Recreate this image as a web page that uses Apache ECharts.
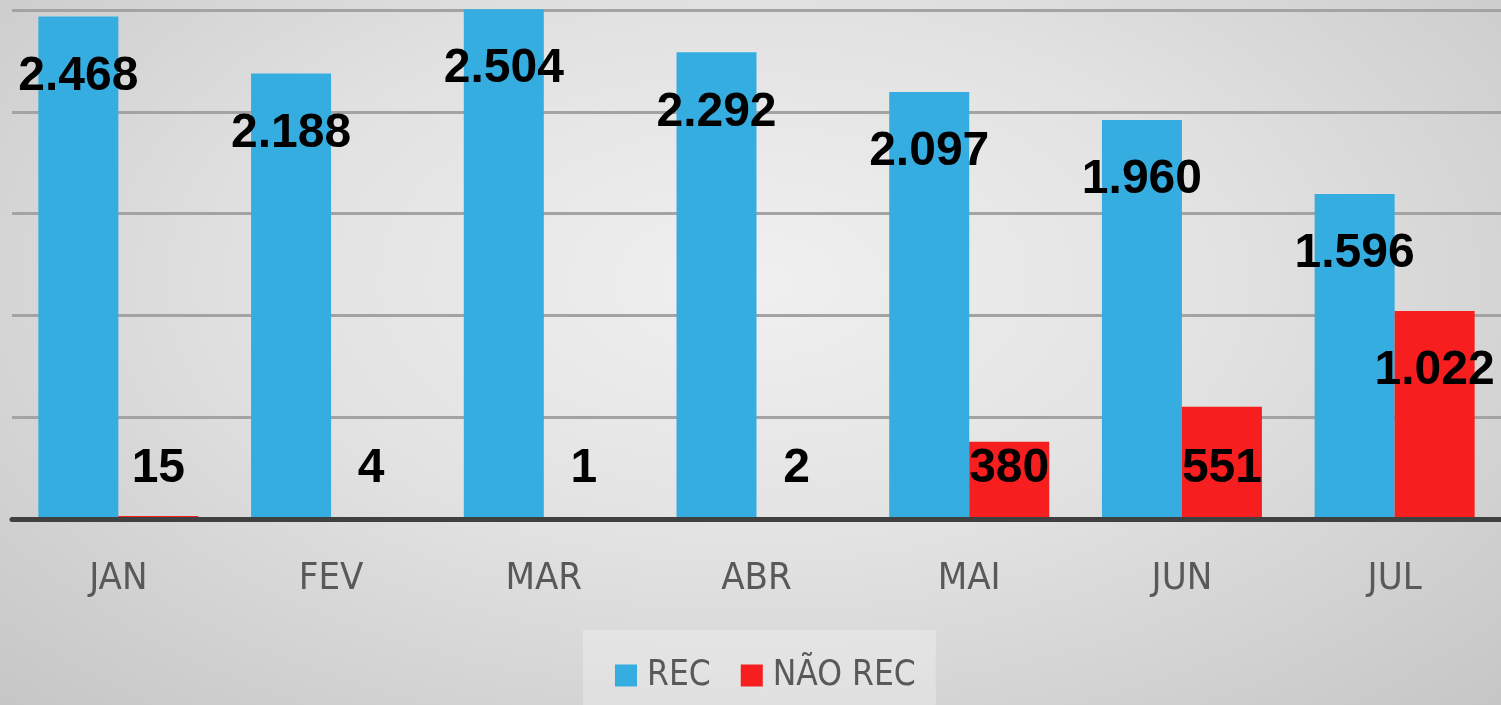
<!DOCTYPE html>
<html>
<head>
<meta charset="utf-8">
<script src="https://cdn.jsdelivr.net/npm/echarts@6/dist/echarts.min.js"></script>
<style>
  html, body { margin: 0; padding: 0; }
  #main {
    width: 1501px;
    height: 705px;
    background: radial-gradient(ellipse at 50% 40%, #f0f0f0 0%, #e2e2e2 45%, #c6c6c6 100%);
  }
</style>
</head>
<body>
<div id="main"></div>
<script>
// dados
const months = ['JAN', 'FEV', 'MAR', 'ABR', 'MAI', 'JUN', 'JUL']
const recValues = [2468, 2188, 2504, 2292, 2097, 1960, 1596]
const naoRecValues = [15, 4, 1, 2, 380, 551, 1022]

const FONT = "'DejaVu Sans Condensed', 'Liberation Sans', sans-serif"
const LABEL_FONT = "'Liberation Sans', Arial, sans-serif"

// 2.468 etc
const fmt = (v) => String(v).replace(/\B(?=(\d{3})+(?!\d))/g, '.')

const topLabel = {
  show: true,
  position: 'insideTop',
  distance: 36,
  color: '#000',
  fontFamily: LABEL_FONT,
  fontWeight: 'bold',
  fontSize: 48,
  lineHeight: 48,
  formatter: (p) => fmt(p.value)
}
const bottomLabel = Object.assign({}, topLabel, { position: 'insideBottom', distance: 26 })

const chart = echarts.init(document.getElementById('main'))
chart.setOption({
  backgroundColor: 'transparent',
  animation: false,
  grid: { left: 12, top: 10, width: 1495, bottom: 186 },
  legend: {
    left: 583,
    top: 630,
    icon: 'rect',
    itemWidth: 22,
    itemHeight: 22,
    itemGap: 30,
    padding: [28, 20, 30, 32],
    backgroundColor: 'rgba(255, 255, 255, 0.28)',
    textStyle: { fontFamily: FONT, fontSize: 35, color: '#595959', padding: [0, 0, 0, 5] },
    data: ['REC', 'NÃO REC']
  },
  xAxis: {
    type: 'category',
    data: months,
    z: 3,
    axisTick: { show: false },
    axisLine: { lineStyle: { color: '#404040', width: 5 } },
    axisLabel: { fontFamily: FONT, fontSize: 38, color: '#595959', margin: 41 }
  },
  yAxis: {
    type: 'value',
    min: 0,
    max: 2500,
    interval: 500,
    axisLabel: { show: false },
    axisLine: { show: false },
    axisTick: { show: false },
    splitLine: { lineStyle: { color: '#a3a3a3', width: 3 } }
  },
  series: [
    {
      name: 'REC',
      type: 'bar',
      data: recValues,
      barWidth: 80,
      barGap: '0%',
      clip: false,
      itemStyle: { color: '#35ade0' },
      label: topLabel
    },
    {
      name: 'NÃO REC',
      type: 'bar',
      data: naoRecValues.map((v) => ({
        value: v,
        label: v > 800 ? topLabel : bottomLabel
      })),
      barWidth: 80,
      clip: false,
      itemStyle: { color: '#f61e1e' }
    }
  ]
})
</script>
</body>
</html>
